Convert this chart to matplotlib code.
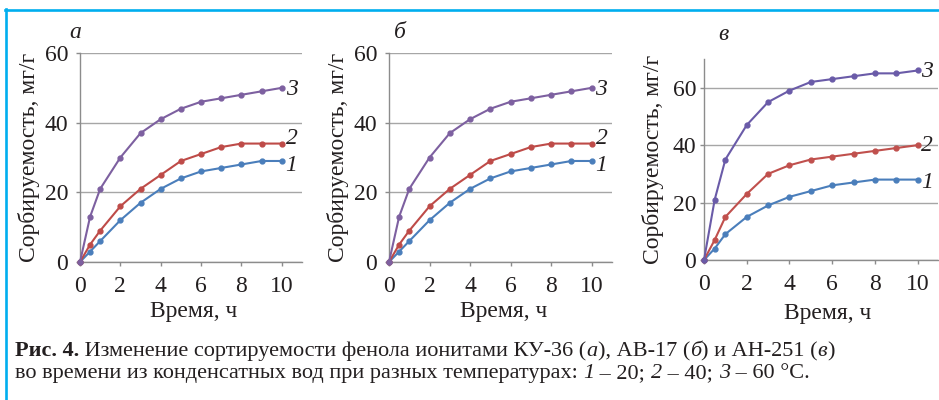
import matplotlib.pyplot as plt
from matplotlib.lines import Line2D

plt.rcParams['font.family'] = ['Liberation Serif', 'DejaVu Serif']

# время, ч
hours = [0, 0.5, 1, 2, 3, 4, 5, 6, 7, 8, 9, 10]

# а - КУ-36
a_20 = [0, 3, 6, 12, 17, 21, 24, 26, 27, 28, 29, 29]
a_40 = [0, 5, 9, 16, 21, 25, 29, 31, 33, 34, 34, 34]
a_60 = [0, 13, 21, 30, 37, 41, 44, 46, 47, 48, 49, 50]

# б - АВ-17
b_20 = [0, 3, 6, 12, 17, 21, 24, 26, 27, 28, 29, 29]
b_40 = [0, 5, 9, 16, 21, 25, 29, 31, 33, 34, 34, 34]
b_60 = [0, 13, 21, 30, 37, 41, 44, 46, 47, 48, 49, 50]

# в - АН-251
c_20 = [0, 4, 9, 15, 19, 22, 24, 26, 27, 28, 28, 28]
c_40 = [0, 7, 15, 23, 30, 33, 35, 36, 37, 38, 39, 40]
c_60 = [0, 21, 35, 47, 55, 59, 62, 63, 64, 65, 65, 66]

curve_names = ['1', '2', '3']
panel_names = ['а', 'б', 'в']
y_ticks = [0, 20, 40, 60]
x_ticks = [0, 2, 4, 6, 8, 10]

colors_ab = ['#4A7EBB', '#BE4B48', '#7D60A0']
colors_c = ['#4A7EBB', '#C0504D', '#6A5BA8']

FS = 17
W, H = 939, 400
fig = plt.figure(figsize=(W / 100, H / 100), dpi=100)

# рамка
fig.add_artist(Line2D([5 / W, 1], [1 - 9.5 / H, 1 - 9.5 / H], color='#00AEEF', lw=1.9))
fig.add_artist(Line2D([6 / W, 6 / W], [0, 1 - 8.5 / H], color='#00AEEF', lw=1.9))


def px_axes(left, right, top, bottom):
    return fig.add_axes([left / W, 1 - bottom / H, (right - left) / W, (bottom - top) / H])


panels = [
    (px_axes(80, 302, 53, 262), [a_20, a_40, a_60], colors_ab, 60, 11.0, 5.5,
     (-0.18, 0.5), (0.513, -0.187), (75, 32), [(7, -3.6), (7, 4), (7, -1.5)]),
    (px_axes(389, 612, 53, 262), [b_20, b_40, b_60], colors_ab, 60, 11.0, 5.5,
     (-0.18, 0.5), (0.513, -0.187), (400, 32), [(7, -3.6), (7, 4), (7, -1.5)]),
    (px_axes(704, 938, 59, 260), [c_20, c_40, c_60], colors_c, 70, 10.95, 2.5,
     (-0.172, 0.5), (0.53, -0.215), (723, 35), [(7, -2.4), (7, 0), (7, -1)]),
]

for i, (ax, series, cols, ytop, xright, ypad, ylab, xlab, plab, offs) in enumerate(panels):
    for vals, col, name, off in zip(series, cols, curve_names, offs):
        ax.plot(hours, vals, color=col, lw=1.5, marker='o', ms=3.5, clip_on=False, zorder=3)
        ax.annotate(name, (hours[-1], vals[-1]), xytext=off, textcoords='offset points',
                    ha='center', va='center', fontsize=FS, fontstyle='italic', color='#231F20',
                    annotation_clip=False)
    ax.set_xlim(0, xright)
    ax.set_ylim(0, ytop)
    ax.set_xticks(x_ticks)
    ax.set_yticks(y_ticks)
    ax.yaxis.grid(True, color='#A6A6A6', lw=1.0)
    ax.set_axisbelow(True)
    for s in ['top', 'right']:
        ax.spines[s].set_visible(False)
    for s in ['left', 'bottom']:
        ax.spines[s].set_color('#8C8C8C')
        ax.spines[s].set_linewidth(1.0)
    ax.tick_params(axis='both', labelsize=FS, colors='#8C8C8C', labelcolor='#231F20',
                   length=3, width=1)
    ax.tick_params(axis='x', pad=7)
    ax.tick_params(axis='y', pad=ypad)
    ax.set_ylabel('Сорбируемость, мг/г', fontsize=FS, color='#231F20')
    ax.set_xlabel('Время, ч', fontsize=FS, color='#231F20')
    ax.yaxis.set_label_coords(*ylab)
    ax.xaxis.set_label_coords(*xlab)
    fig.text(plab[0] / W, 1 - plab[1] / H, panel_names[i], fontsize=FS, fontstyle='italic',
             ha='center', va='center', color='#231F20')

# подпись
renderer = fig.canvas.get_renderer()


def seg_width(s, size, weight, style):
    t1 = fig.text(0, 0, '|' + s + '|', fontsize=size, fontweight=weight, fontstyle=style)
    t2 = fig.text(0, 0, '||', fontsize=size, fontweight=weight, fontstyle=style)
    w = t1.get_window_extent(renderer).width - t2.get_window_extent(renderer).width
    t1.remove()
    t2.remove()
    return w


def draw_runs(x, y, runs, size):
    for s, weight, style in runs:
        fig.text(x / W, 1 - y / H, s, fontsize=size, fontweight=weight, fontstyle=style,
                 ha='left', va='baseline', color='#231F20')
        x += seg_width(s, size, weight, style)


line1 = [('Рис. 4.', 'bold', 'normal'),
         (' Изменение сортируемости фенола ионитами КУ-36 (', 'normal', 'normal'),
         ('а', 'normal', 'italic'), ('), АВ-17 (', 'normal', 'normal'),
         ('б', 'normal', 'italic'), (') и АН-251 (', 'normal', 'normal'),
         ('в', 'normal', 'italic'), (')', 'normal', 'normal')]
line2 = [('во времени из конденсатных вод при разных температурах: ', 'normal', 'normal'),
         ('1', 'normal', 'italic'), (' – 20; ', 'normal', 'normal'),
         ('2', 'normal', 'italic'), (' – 40; ', 'normal', 'normal'),
         ('3', 'normal', 'italic'), (' – 60 °C.', 'normal', 'normal')]

cap_size = 16
draw_runs(15, 356, line1, cap_size)
draw_runs(15, 378, line2, cap_size)

fig.savefig('out.png', dpi=100)
